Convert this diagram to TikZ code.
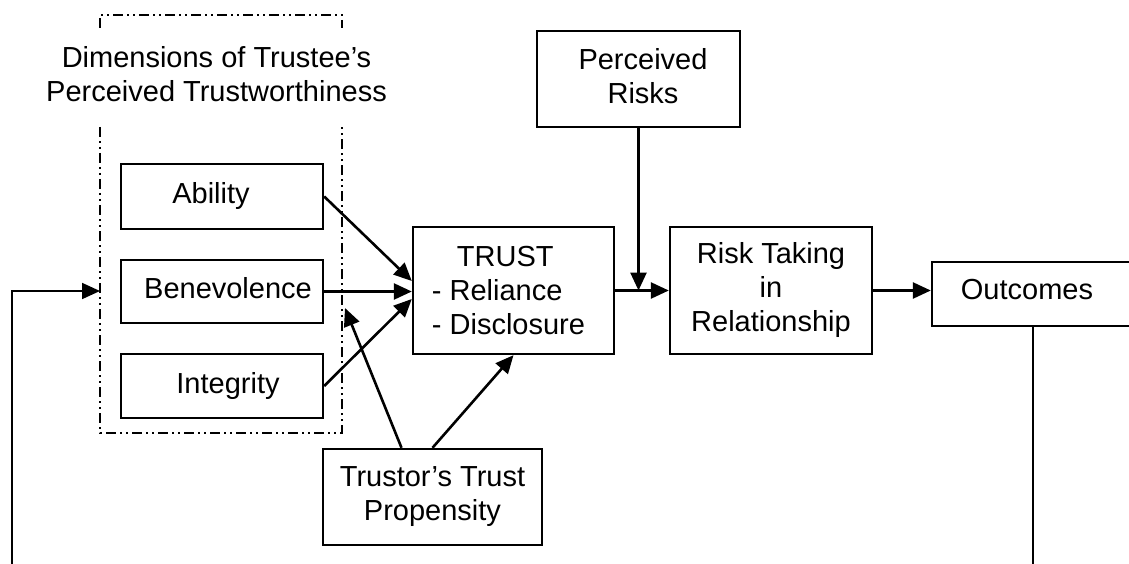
\documentclass[tikz,border=0pt]{standalone}
\usepackage{fontspec}
\setmainfont{Liberation Sans}
\usetikzlibrary{arrows.meta}

\begin{document}
\begin{tikzpicture}[x=1pt,y=-1pt,
  font=\fontsize{29}{34}\selectfont,
  tbox/.style={draw, line width=2.4pt, inner sep=0pt, align=center},
  arr/.style={line width=2.6pt, -{Triangle[length=18pt,width=16pt]}},
  dimframe/.style={line width=1.6pt, dash pattern=on 10pt off 4pt on 2pt off 4pt on 2pt off 4pt},
  backline/.style={line width=1.8pt}]
\useasboundingbox (0,0) rectangle (1129,564);
\clip (0,0) rectangle (1129,564);

% dimensions of trustworthiness: dash-dot frame, broken by its title
\draw[dimframe] (100,28) |- (342,15) -- (342,28);
\draw[dimframe] (100,127) |- (342,433) -- (342,127);
\node[align=center] (dimtitle) at (216.5,74.5)
  {Dimensions of Trustee’s\\Perceived Trustworthiness};

% boxes
\node[tbox, minimum width=202pt, minimum height=65pt] (abil) at (222,196.5)
  {Ability\hspace*{22pt}};
\node[tbox, minimum width=202pt, minimum height=63pt, text depth=8pt] (bene) at (222,291.5)
  {\hspace*{12pt}Benevolence};
\node[tbox, minimum width=202pt, minimum height=64pt] (integ) at (222,386)
  {\hspace*{12pt}Integrity};
\node[tbox, align=left, minimum width=201pt, minimum height=127pt] (trust) at (513.5,290.5)
  {\hspace*{25pt}TRUST\\- Reliance\\- Disclosure\hspace*{10pt}};
\node[tbox, minimum width=202pt, minimum height=127pt] (risk) at (771,290.5)
  {Risk Taking\\in\\Relationship};
\node[tbox, minimum width=203pt, minimum height=96pt, text depth=7pt] (prisk) at (638.5,79)
  {\hspace*{9pt}Perceived\\\hspace*{9pt}Risks};
\node[tbox, minimum width=202pt, minimum height=64pt, text depth=9pt] (outc) at (1033,294)
  {Outcomes\hspace*{12pt}};
\node[tbox, minimum width=219pt, minimum height=96pt] (prop) at (432.5,497)
  {Trustor’s Trust\\Propensity};

% connectors
\draw[arr] (abil.east) -- ([yshift=9.5pt]trust.west);
\draw[arr] (bene.east) -- (bene.east -| trust.west);
\draw[arr] (integ.east) -- ([yshift=-8.5pt]trust.west);
\draw[arr] (trust.east) -- (risk.west);
\draw[arr] (prisk.south) -- (prisk.south |- trust.east);
\draw[arr] (risk.east) -- (risk.east -| outc.west);

\coordinate (propTip) at (345,308);
\draw[arr] ([xshift=-31pt]prop.north) -- (propTip);
\draw[arr] (prop.north) -- (trust.south);

% feedback from outcomes back to the trustworthiness dimensions
\coordinate (fbL) at (12,564);
\coordinate (fbIn) at (100,291);
\coordinate (fbR) at (1033,564);
\draw[backline, -{Triangle[length=18pt,width=16pt]}] (fbL) |- (fbIn);
\draw[backline] (outc.south) -- (fbR);
\end{tikzpicture}
\end{document}
